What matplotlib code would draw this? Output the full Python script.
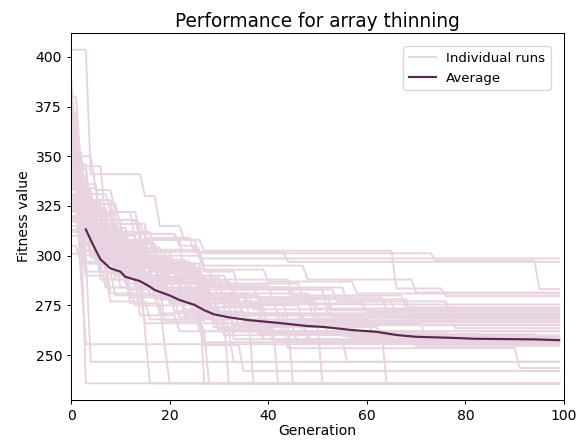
import numpy as np
from matplotlib import pyplot as plt

N_GEN = 100

# best fitness per run, stored as (generation, new value) change points
runs = [
    [(0, 372), (2, 318), (3, 235.8)],
    [(0, 340), (3, 318), (8, 296), (15, 262), (16, 235.8)],
    [(0, 330), (2, 311), (6, 292), (12, 276), (19, 255), (20, 235.8)],
    [(0, 348), (2, 325), (5, 305), (10, 290), (18, 282), (27, 235.8)],
    [(0, 318), (4, 301), (9, 288), (14, 270), (22, 262), (28, 235.8)],
    [(0, 335), (3, 309), (7, 297), (13, 285), (20, 276), (26, 268), (32, 235.8)],
    [(0, 325), (2, 314), (6, 300), (11, 291), (17, 278), (25, 271), (37, 235.8)],
    [(0, 362), (1, 340), (4, 326), (10, 316), (16, 288), (24, 279), (30, 263), (42, 235.8)],
    [(0, 344), (3, 320), (8, 305), (15, 292), (22, 284), (29, 266), (45, 235.8)],
    [(0, 328), (2, 306), (7, 294), (14, 281), (21, 272), (33, 265), (51, 235.8)],
    [(0, 338), (3, 312), (9, 299), (18, 287), (27, 274), (40, 262), (64, 235.8)],
    [(0, 356), (2, 322), (6, 304), (13, 290), (20, 280), (30, 270), (44, 253.5), (91, 243.5)],
    [(0, 320), (3, 300), (10, 284), (19, 267), (27, 255), (35, 242)],
    [(0, 331), (2, 300), (4, 246.6)],
    [(0, 346), (4, 318), (11, 295), (17, 281), (26, 262), (33, 246.6)],
    [(0, 315), (5, 296), (12, 283), (23, 270), (39, 258), (56, 246.6)],
    [(0, 333), (2, 290), (3, 255.5)],
    [(0, 351), (3, 327), (7, 302), (12, 289), (20, 277), (29, 264), (46, 255.5)],
    [(0, 322), (4, 305), (10, 292), (16, 280), (27, 268), (38, 261), (70, 254.5)],
    [(0, 339), (2, 316), (6, 298), (11, 286), (23, 273), (31, 260), (49, 256)],
    [(0, 310), (3, 297), (8, 281), (15, 266), (27, 256.5)],
    [(0, 342), (2, 320), (5, 303), (13, 289), (21, 279), (28, 268), (52, 261), (77, 257.5)],
    [(0, 327), (4, 308), (9, 295), (18, 284), (26, 271), (47, 262), (67, 258.5)],
    [(0, 354), (1, 332), (5, 310), (11, 294), (19, 282), (28, 272), (36, 265), (58, 258)],
    [(0, 312), (3, 290), (8, 277), (16, 268), (27, 262), (43, 260)],
    [(0, 336), (3, 314), (7, 300), (14, 287), (25, 276), (34, 264), (63, 260.5), (95, 257)],
    [(0, 319), (2, 303), (6, 288), (12, 279), (22, 269), (30, 262)],
    [(0, 349), (3, 323), (8, 306), (16, 295), (26, 285), (41, 277), (50, 266.4)],
    [(0, 330), (4, 312), (10, 298), (19, 288), (28, 281), (49, 268.5)],
    [(0, 366), (1, 342), (3, 320), (9, 303), (17, 292), (27, 283), (52, 271)],
    [(0, 324), (3, 306), (9, 294), (20, 286), (27, 279), (53, 272.5)],
    [(0, 341), (2, 318), (7, 305), (15, 296), (26, 288), (45, 280), (68, 274)],
    [(0, 313), (4, 299), (11, 289), (24, 281), (36, 275.5)],
    [(0, 357), (2, 331), (8, 322), (13, 308), (23, 290), (32, 284), (56, 277), (77, 270)],
    [(0, 334), (3, 316), (10, 302), (21, 294), (27, 286), (47, 279), (64, 273)],
    [(0, 403.6), (4, 341), (15, 330), (18, 315), (23, 308), (27, 302.5), (66, 283.5), (76, 279.7)],
    [(0, 361), (2, 336), (6, 318), (14, 308), (26, 301.2), (74, 297.5), (95, 283.2)],
    [(0, 352), (3, 328), (9, 312), (17, 303), (27, 293), (40, 287), (58, 281)],
    [(0, 385), (1, 350), (5, 333), (9, 322), (14, 311), (22, 305), (26, 298.6)],
    [(0, 380), (2, 345), (7, 316), (15, 309), (25, 302), (44, 296.9)],
    [(0, 368), (1, 336), (4, 312), (10, 300), (19, 291), (27, 276), (44, 268), (61, 262)],
    [(0, 345), (2, 326), (5, 309), (12, 297), (20, 289), (28, 280), (39, 270), (59, 265)],
    [(0, 326), (2, 309), (6, 296), (14, 288), (24, 278), (35, 267), (55, 259.5)],
    [(0, 359), (1, 338), (3, 315), (8, 301), (16, 293), (26, 284), (34, 276), (53, 269.5)],
    [(0, 317), (3, 302), (9, 290), (17, 279), (29, 270), (48, 257)],
    [(0, 347), (2, 321), (6, 307), (13, 296), (25, 287), (30, 277), (42, 270), (78, 263.5)],
    [(0, 376), (1, 348), (3, 325), (7, 310), (14, 299), (21, 290), (27, 281), (37, 273), (62, 267.3)],
    [(0, 333), (3, 311), (8, 299), (15, 289), (26, 278), (33, 258)],
    [(0, 390), (1, 356), (2, 333), (5, 316), (11, 304), (18, 296), (27, 285), (38, 278), (69, 270.1)],
    [(0, 323), (2, 305), (7, 291), (16, 283), (27, 274), (32, 262), (61, 256)],
    [(0, 340), (4, 320), (9, 308), (17, 298), (24, 290), (28, 274), (39, 266), (72, 258)],
    [(0, 353), (2, 329), (5, 313), (11, 302), (20, 293), (29, 284), (45, 276), (60, 271.8)],
    [(0, 305), (2, 296), (7, 284), (13, 275), (27, 266), (41, 257.5)],
    [(0, 364), (1, 344), (4, 321), (10, 306), (18, 297), (25, 287), (33, 279), (50, 273.5)],
    [(0, 329), (2, 312), (5, 299), (11, 289), (27, 280), (36, 271), (54, 265.1)],
    [(0, 337), (3, 315), (7, 303), (13, 294), (22, 286), (27, 270), (43, 260.5), (84, 255.5)],
    [(0, 370), (1, 343), (3, 322), (9, 307), (17, 300), (27, 292), (34, 283), (54, 277), (66, 268.5)],
    [(0, 346), (2, 324), (8, 311), (15, 302), (27, 295), (48, 288), (70, 281.5)],
    [(0, 301), (3, 292), (9, 280), (18, 271), (31, 262), (57, 258.5)],
    [(0, 358), (2, 334), (6, 314), (12, 304), (19, 296), (26, 289), (31, 275), (47, 267.3)],
]

avg_gen = [3, 4, 5, 6, 8, 10, 11, 14, 16, 17, 20, 22, 25, 27, 29, 32, 36,
           42, 48, 51, 57, 62, 66, 70, 77, 82, 94, 99]
avg_val = [313.2, 307.9, 302.8, 298.1, 293.6, 292.0, 289.4, 287.2, 284.4,
           282.7, 280.0, 277.7, 275.3, 272.6, 270.5, 269.0, 267.6, 266.2,
           264.6, 264.2, 262.6, 261.7, 260.1, 259.2, 258.7, 258.2, 257.9, 257.5]

RUN_COLOR = "#e8d4e1"
AVG_COLOR = "#5a284f"

plt.rcParams.update({"font.size": 11})


def expand(changes, n=N_GEN):
    vals = np.empty(n)
    for g, v in changes:
        vals[g:] = v
    return vals


gens = np.arange(N_GEN)

fig = plt.figure(figsize=(586 / 92, 441 / 92), dpi=92)
ax = fig.add_axes([0.1212, 0.093, 0.8413, 0.832])

for i, r in enumerate(runs):
    ax.plot(gens, expand(r), color=RUN_COLOR, linewidth=1.5,
            label="Individual runs" if i == 0 else None)

ax.plot(avg_gen, avg_val, color=AVG_COLOR, linewidth=1.7, label="Average")

ax.set_xlim(0, 100)
ax.set_title("Performance for array thinning", fontsize=14.5, pad=5)
ax.set_xlabel("Generation", labelpad=1)
ax.set_ylabel("Fitness value", labelpad=3)
ax.legend(loc="upper right", fontsize=10.5, borderaxespad=1.0)

plt.savefig("out.png", dpi=92)
